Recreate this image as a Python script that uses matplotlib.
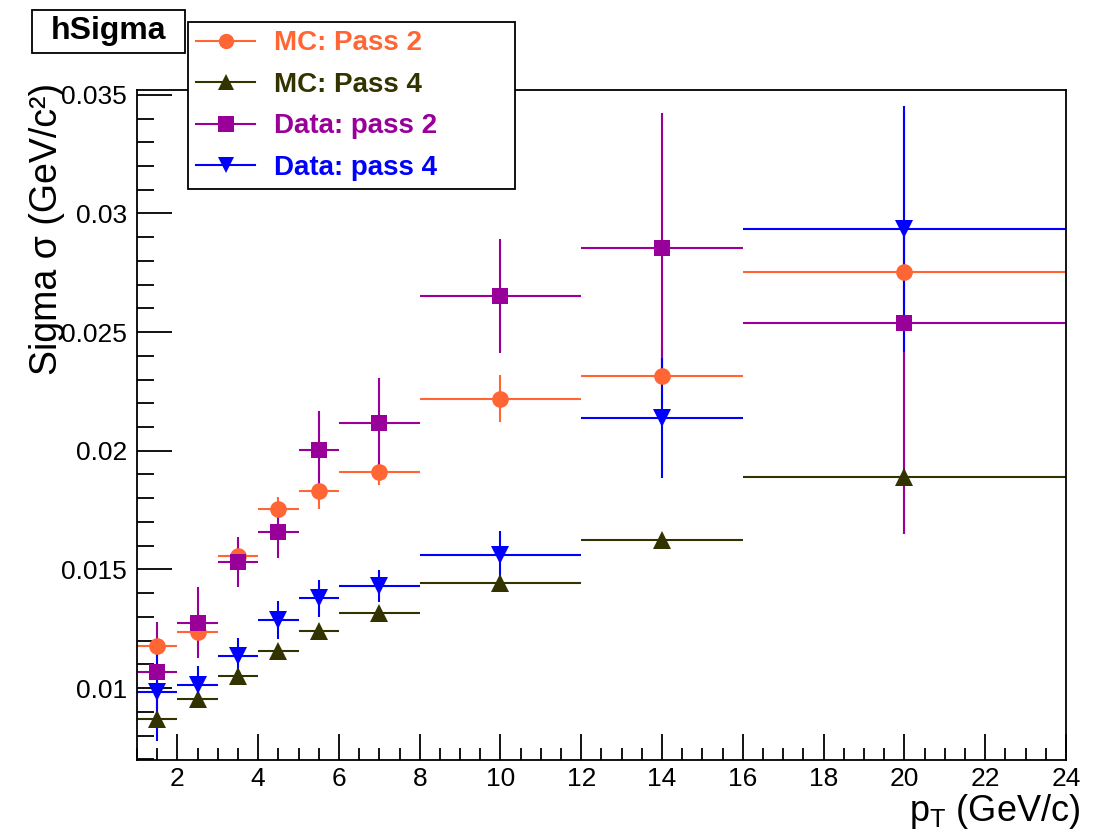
import numpy as np
import matplotlib
matplotlib.use("Agg")
import matplotlib.pyplot as plt
from matplotlib.ticker import MultipleLocator
from matplotlib.lines import Line2D
from matplotlib.patches import Rectangle

plt.rcParams['font.family'] = ['Liberation Sans', 'DejaVu Sans']
plt.rcParams['mathtext.fontset'] = 'custom'
plt.rcParams['mathtext.rm'] = 'Liberation Sans'
plt.rcParams['mathtext.it'] = 'Liberation Sans'

# pT bins (GeV/c)
bin_edges = [1, 2, 3, 4, 5, 6, 8, 12, 16, 24]

# sigma values
mc_pass2 = [0.01177, 0.01236, 0.01556, 0.01755, 0.01830, 0.01912, 0.02220, 0.02313, 0.02755]
mc_pass2_err = [0.0003, 0.0003, 0.0003, 0.0005, 0.00075, 0.00055, 0.0010, 0.0012, 0.0015]
mc_pass4 = [0.00871, 0.00954, 0.01051, 0.01157, 0.01242, 0.01315, 0.01444, 0.01624, 0.01891]
mc_pass4_err = [0.0002, 0.0002, 0.0002, 0.0002, 0.0002, 0.0002, 0.0002, 0.0002, 0.0003]
data_pass2 = [0.01067, 0.01275, 0.01530, 0.01656, 0.02002, 0.02116, 0.02653, 0.02855, 0.02540]
data_pass2_err = [0.0021, 0.0015, 0.00106, 0.0011, 0.00167, 0.0019, 0.0024, 0.0057, 0.0089]
data_pass4 = [0.00983, 0.01011, 0.01135, 0.01287, 0.01378, 0.01430, 0.01561, 0.02138, 0.02934]
data_pass4_err = [0.00207, 0.0008, 0.00075, 0.0008, 0.00077, 0.00068, 0.0010, 0.00253, 0.0052]

edges = np.array(bin_edges, dtype=float)
centers = 0.5 * (edges[1:] + edges[:-1])
half = 0.5 * (edges[1:] - edges[:-1])

fig = plt.figure(figsize=(11.01, 8.39), dpi=100)
ax = fig.add_axes([0.1244, 0.0942, 0.8438, 0.7985])

series = [
    ("MC: Pass 2", mc_pass2, mc_pass2_err, "#FF6633", "o", 12),
    ("MC: Pass 4", mc_pass4, mc_pass4_err, "#333300", "^", 13),
    ("Data: pass 2", data_pass2, data_pass2_err, "#990099", "s", 12),
    ("Data: pass 4", data_pass4, data_pass4_err, "#0000FF", "v", 13),
]

handles = []
for label, y, yerr, col, mk, ms in series:
    ax.errorbar(centers, y, xerr=half, yerr=yerr, fmt=mk, color=col,
                ms=ms, mew=0, elinewidth=1.5, capsize=0)
    handles.append(Line2D([], [], color=col, marker=mk, ms=ms - 1, mew=0,
                          lw=1.5, label=label))

ax.set_xlim(1, 24)
ax.set_ylim(0.00697, 0.0352)

ax.xaxis.set_major_locator(MultipleLocator(2))
ax.xaxis.set_minor_locator(MultipleLocator(0.5))
ax.yaxis.set_major_locator(MultipleLocator(0.005))
ax.yaxis.set_minor_locator(MultipleLocator(0.001))
ax.tick_params(which='both', direction='in', top=False, right=False,
               labelsize=19, width=1.3)
ax.tick_params(axis='x', which='major', length=19, pad=5)
ax.tick_params(axis='x', which='minor', length=9)
ax.tick_params(axis='y', which='major', length=25, pad=7)
ax.tick_params(axis='y', which='minor', length=12)
ax.yaxis.set_major_formatter(plt.FuncFormatter(lambda v, p: ("%g" % round(v, 4))))
for s in ax.spines.values():
    s.set_linewidth(1.3)

ax.set_ylabel("Sigma σ (GeV/c²)", fontsize=27, loc='top')
ax.yaxis.set_label_coords(-0.077, 1.01)
ax.set_xlabel(r"p$_{\mathrm{T}}$ (GeV/c)", fontsize=26, loc='right')
ax.xaxis.set_label_coords(1.015, -0.048)

# title box
fig.add_artist(Rectangle((0.0291, 0.9368), 0.1389, 0.0512, transform=fig.transFigure,
                         fc='white', ec='black', lw=1.3))
fig.text(0.0985, 0.9625, "hSigma", fontsize=23, fontweight='bold', ha='center', va='center')

leg = fig.legend(handles=handles, loc='upper left',
                 bbox_to_anchor=(0.1708, 0.7735, 0.297, 0.2003), mode='expand',
                 fontsize=20, frameon=True, fancybox=False, framealpha=1,
                 edgecolor='black', handlelength=2.1, labelspacing=0.56,
                 borderpad=0.3, handletextpad=0.7, borderaxespad=0)
leg.get_frame().set_linewidth(1.3)
for txt, (_, _, _, col, _, _) in zip(leg.get_texts(), series):
    txt.set_color(col)
    txt.set_fontweight('bold')

fig.savefig("out.png", dpi=100)
